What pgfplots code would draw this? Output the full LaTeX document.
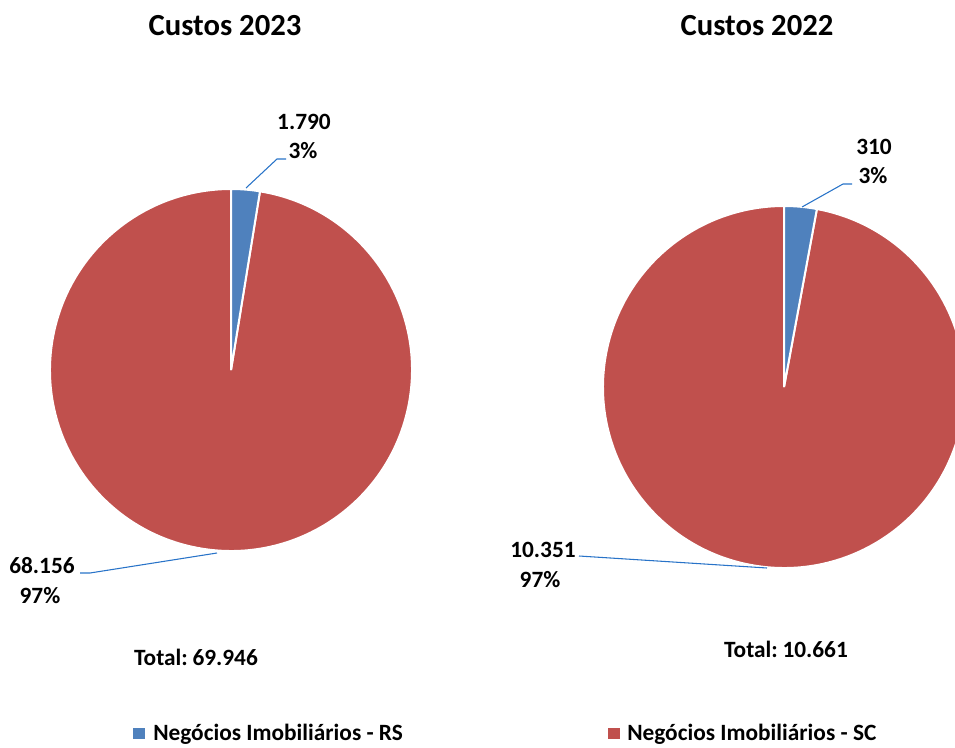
\documentclass[border=0pt]{standalone}
\usepackage{pgfplots}
\pgfplotsset{compat=1.18}
\usepackage{fontspec}
\setmainfont{Carlito}
\definecolor{rsblue}{RGB}{79,129,189}
\definecolor{scred}{RGB}{192,80,77}
\definecolor{leader}{RGB}{40,115,200}
% values (thousands)
\def\rsA{1.790}\def\scA{68.156}
\def\rsB{0.310}\def\scB{10.351}
\pgfmathsetmacro\angA{90-360*\rsA/(\rsA+\scA)}
\pgfmathsetmacro\angB{90-360*\rsB/(\rsB+\scB)}
\begin{document}
\begin{tikzpicture}
\clip (0,0) rectangle (716.25pt,560.25pt);
\begin{axis}[x=0.75pt,y=0.75pt,xmin=0,xmax=955,ymin=0,ymax=747,hide axis,clip=false,
  anchor=south west,at={(0,0)}]
% ---- Pie 2023
\fill[scred,draw=white,line width=1.5pt] (axis cs:231,377) -- ++(\angA:135.75pt) arc[start angle=\angA,end angle=-270,radius=135.75pt] -- cycle;
\fill[rsblue,draw=white,line width=1.5pt] (axis cs:231,377) -- ++(90:135.75pt) arc[start angle=90,end angle=\angA,radius=135.75pt] -- cycle;
% ---- Pie 2022
\fill[scred,draw=white,line width=1.5pt] (axis cs:784,360) -- ++(\angB:135.75pt) arc[start angle=\angB,end angle=-270,radius=135.75pt] -- cycle;
\fill[rsblue,draw=white,line width=1.5pt] (axis cs:784,360) -- ++(90:135.75pt) arc[start angle=90,end angle=\angB,radius=135.75pt] -- cycle;
% ---- leader lines
\draw[leader,line width=0.8pt] (axis cs:246,559) -- (axis cs:277,588) -- (axis cs:286,588);
\draw[leader,line width=0.8pt] (axis cs:80,174) -- (axis cs:90,174) -- (axis cs:217,194);
\draw[leader,line width=0.8pt] (axis cs:802,540) -- (axis cs:843,563) -- (axis cs:852,563);
\draw[leader,line width=0.8pt] (axis cs:579,191) -- (axis cs:767,179);
% ---- labels
\tikzset{lab/.style={anchor=base,font=\fontsize{17.5}{20}\selectfont\bfseries,inner sep=0pt}}
\node[lab] at (axis cs:304,617) {1.790};
\node[lab] at (axis cs:303,588) {3\%};
\node[lab] at (axis cs:42,174) {68.156};
\node[lab] at (axis cs:40,144) {97\%};
\node[lab] at (axis cs:874,592) {310};
\node[lab] at (axis cs:873,563) {3\%};
\node[lab] at (axis cs:543,190) {10.351};
\node[lab] at (axis cs:540,160) {97\%};
% ---- titles
\node[anchor=base,font=\fontsize{23}{27}\selectfont\bfseries,inner sep=0pt] at (axis cs:225,711) {Custos 2023};
\node[anchor=base,font=\fontsize{23}{27}\selectfont\bfseries,inner sep=0pt] at (axis cs:757,711) {Custos 2022};
% ---- totals
\node[lab] at (axis cs:196,82) {Total:\hspace{-0.1em} 69.946};
\node[lab] at (axis cs:786,90) {Total:\hspace{-0.1em} 10.661};
% ---- legend
\fill[rsblue] (axis cs:133,8) rectangle (axis cs:145,19);
\fill[scred] (axis cs:608,8) rectangle (axis cs:620,19);
\node[anchor=base west,font=\fontsize{17.5}{20}\selectfont\bfseries,inner sep=0pt] at (axis cs:153,7) {Negócios Imobiliários - RS};
\node[anchor=base west,font=\fontsize{17.5}{20}\selectfont\bfseries,inner sep=0pt] at (axis cs:627,7) {Negócios Imobiliários - SC};
\end{axis}
\end{tikzpicture}
\end{document}
